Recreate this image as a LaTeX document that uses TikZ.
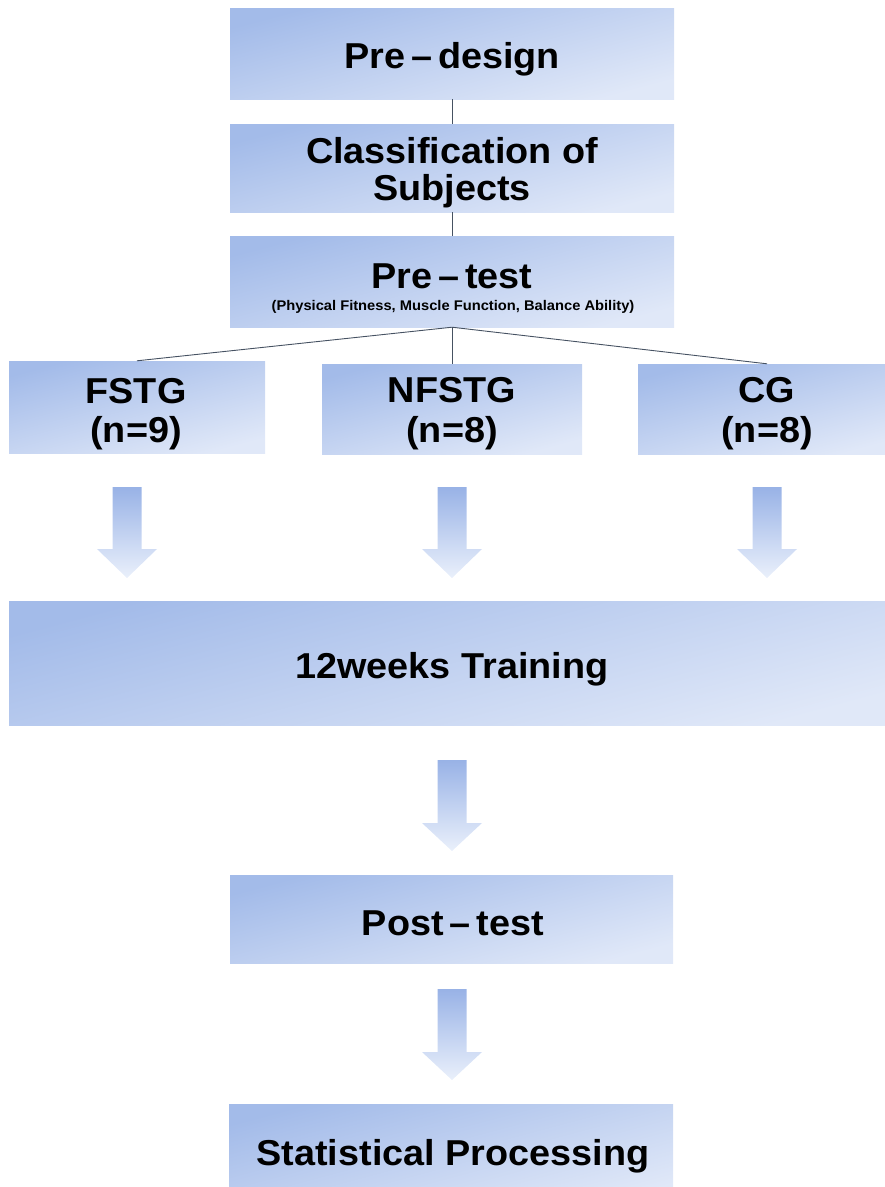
\documentclass[tikz,border=0pt]{standalone}
\usepackage{fontspec}
\setmainfont{Liberation Sans}
\newfontfamily\boxfont{Liberation Sans}[FakeStretch=1.05]
\definecolor{boxdark}{RGB}{163,187,233}
\definecolor{boxlight}{RGB}{224,232,248}
\definecolor{arrowdark}{RGB}{152,178,230}
\definecolor{arrowlight}{RGB}{234,240,251}
\definecolor{linegray}{RGB}{70,82,98}
\tikzset{
  stepbox/.style  = {rectangle, inner sep=0pt, top color=boxdark, bottom color=boxlight, shading angle=15},
  boxtext/.style  = {inner sep=0pt, anchor=base, font=\boxfont\bfseries\fontsize{36}{37}\selectfont},
  notetext/.style = {inner sep=0pt, anchor=base, font=\boxfont\bfseries\fontsize{14}{15}\selectfont},
  fatarrow/.style = {top color=arrowdark, bottom color=arrowlight},
  link/.style     = {draw=linegray, line width=0.9pt},
}

\begin{document}
\begin{tikzpicture}[x=1pt, y=-1pt]
        \useasboundingbox (0,0) rectangle (885,1187);
        \clip (0,0) rectangle (885,1187);
        % boxes of the design
        \node[stepbox, minimum width=444pt, minimum height=91pt] (predesign) at (452,53.5) {};
        \node[stepbox, minimum width=444pt, minimum height=88pt] (classif) at (452,168) {};
        \node[stepbox, minimum width=444pt, minimum height=91pt] (pretest) at (452,281.5) {};
        \node[stepbox, minimum width=256pt, minimum height=92pt] (fstg) at (137,407) {};
        \node[stepbox, minimum width=260pt, minimum height=90pt] (nfstg) at (452,409) {};
        \node[stepbox, minimum width=258pt, minimum height=90pt] (cg) at (767,409) {};
        \node[stepbox, minimum width=886pt, minimum height=124pt] (training) at (452,663) {};
        \node[stepbox, minimum width=443pt, minimum height=88pt] (posttest) at (451.5,919) {};
        \node[stepbox, minimum width=444pt, minimum height=100pt] (statproc) at (451,1154) {};
        % texts on the boxes
        \node[boxtext] (predesigntext) at (452,68) {Pre\,–\,design};
        \node[boxtext] (classiftext) at (452,163) {Classification of};
        \node[boxtext] (classiftextb) at (452,200) {Subjects};
        \node[boxtext] (pretesttext) at (452,288) {Pre\,–\,test};
        \node[notetext] (pretestnote) at (453,310) {(Physical Fitness, Muscle Function, Balance Ability)};
        \node[boxtext] (fstgtext) at (136,403) {FSTG};
        \node[boxtext] (fstgn) at (136,442) {(n=9)};
        \node[boxtext] (nfstgtext) at (452,402) {NFSTG};
        \node[boxtext] (nfstgn) at (452,442) {(n=8)};
        \node[boxtext] (cgtext) at (767,402) {CG};
        \node[boxtext] (cgn) at (767,442) {(n=8)};
        \node[boxtext] (trainingtext) at (452,678) {12weeks Training};
        \node[boxtext] (posttesttext) at (453,935) {Post\,–\,test};
        \node[boxtext] (statproctext) at (453,1165) {Statistical Processing};
        % thin links
        \draw[link] (predesign) -- (classif);
        \draw[link] (classif) -- (pretest);
        \draw[link] (pretest.south) -- (fstg.north);
        \draw[link] (pretest.south) -- (nfstg.north);
        \draw[link] (pretest.south) -- (cg.north);
        % block arrows
        \foreach \ax in {127,452,767} {
            \path[fatarrow] (\ax-14.5,487) -- (\ax+14.5,487) -- (\ax+14.5,549) -- (\ax+30,549)
                -- (\ax,578) -- (\ax-30,549) -- (\ax-14.5,549) -- cycle;
        }
        \foreach \ay in {760,989} {
            \path[fatarrow] (437.5,\ay) -- (466.5,\ay) -- (466.5,\ay+63) -- (482,\ay+63)
                -- (452,\ay+91) -- (422,\ay+63) -- (437.5,\ay+63) -- cycle;
        }
    \end{tikzpicture}
\end{document}
